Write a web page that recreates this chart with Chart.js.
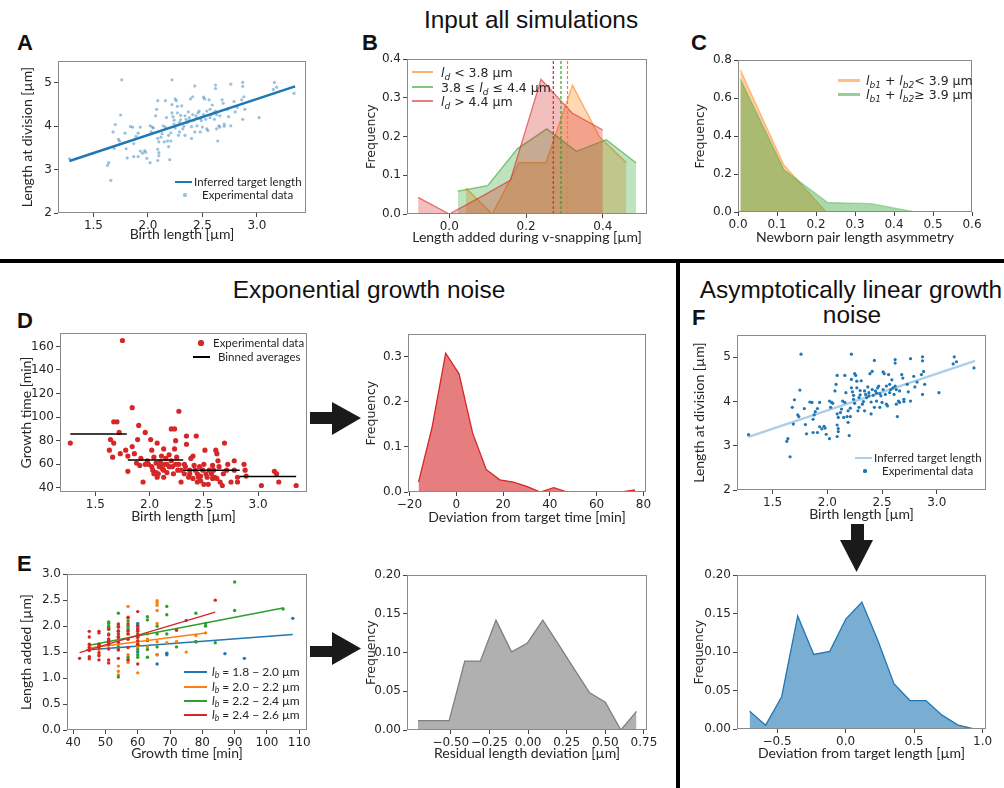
<!DOCTYPE html>
<html>
<head>
<meta charset="utf-8">
<script src="https://cdn.jsdelivr.net/npm/chart.js@4.4.0/dist/chart.umd.min.js"></script>
<style>
  body { margin: 0; background: #fff; }
  #fig { position: relative; width: 1004px; height: 788px; overflow: hidden; background: #fff; }
  .box { position: absolute; }
  .t { position: absolute; white-space: nowrap; color: #262626; }
  .head { position: absolute; white-space: nowrap; font-family: 'Liberation Sans', Arial, sans-serif; font-size: 24.4px; line-height: 25px; color: #111; transform: translateX(-50%); }
  .letter { position: absolute; font-family: 'Liberation Sans', Arial, sans-serif; font-weight: bold; font-size: 22px; line-height: 22px; color: #111; }
  sub { font-size: 72%; vertical-align: -0.28em; line-height: 0; }
</style>
</head>
<body>
<div id="fig">
  <svg width="1004" height="788" style="position:absolute;left:0;top:0">
    <rect x="0" y="259" width="1004" height="4" fill="#000"/>
    <rect x="676" y="259" width="4" height="529" fill="#000"/>
    <!-- arrows -->
    <rect x="310" y="412" width="24" height="12" fill="#1a1a1a"/>
    <polygon points="332,402 361,418 332,435" fill="#1a1a1a"/>
    <rect x="310" y="646" width="24" height="11" fill="#1a1a1a"/>
    <polygon points="332,632 361,648.5 332,665" fill="#1a1a1a"/>
    <rect x="851" y="524" width="13" height="18" fill="#1a1a1a"/>
    <polygon points="840,540 873,540 856.5,572" fill="#1a1a1a"/>
  </svg>
  <div class="head" style="left:531px;top:7px">Input all simulations</div>
  <div class="head" style="left:369px;top:277px">Exponential growth noise</div>
  <div class="head" style="left:851px;top:277px">Asymptotically linear growth</div>
  <div class="head" style="left:852px;top:302px">noise</div>
  <div class="letter" style="left:17px;top:32px">A</div>
  <div class="letter" style="left:362px;top:32px">B</div>
  <div class="letter" style="left:691px;top:32px">C</div>
  <div class="letter" style="left:17px;top:310px">D</div>
  <div class="letter" style="left:17px;top:553px">E</div>
  <div class="letter" style="left:692px;top:307px">F</div>
</div>
<script>
// ---- data ----
// A / F : birth length vs length at division
const birthLen = [1.28,1.76,2.22,2.43,2.62,2.62,2.76,2.87,2.87,3.16,3.18,3.15,3.34,1.75,1.66,1.64,1.63,1.70,1.68,1.73,1.74,1.69,1.79,1.80,1.81,1.84,1.86,1.87,1.88,1.89,1.91,1.93,1.93,1.87,1.91,1.95,1.97,1.98,1.99,2.02,2.02,2.04,2.03,2.05,2.07,2.08,2.09,2.09,2.10,2.09,2.10,2.10,2.09,2.12,2.13,2.14,2.15,2.16,2.16,2.17,2.18,2.19,2.19,2.20,2.21,2.21,2.22,2.22,2.23,2.24,2.24,2.25,2.25,2.26,2.27,2.27,2.28,2.29,2.29,2.30,2.30,2.31,2.32,2.33,2.34,2.34,2.35,2.36,2.37,2.38,2.38,2.39,2.40,2.40,2.41,2.41,2.42,2.43,2.44,2.45,2.45,2.46,2.47,2.48,2.48,2.49,2.50,2.51,2.51,2.52,2.53,2.54,2.54,2.55,2.56,2.57,2.57,2.58,2.59,2.60,2.61,2.62,2.63,2.63,2.64,2.65,2.66,2.66,2.68,2.69,2.70,2.70,2.73,2.74,2.76,2.79,2.80,2.82,2.86,2.87,2.88,2.89,3.02];
const divLen = [3.25,5.07,5.07,4.93,4.95,4.87,4.97,5.01,4.92,5.01,4.90,4.85,4.76,4.26,2.75,3.16,3.10,4.04,3.87,3.70,3.66,3.49,3.84,3.48,3.27,3.99,3.98,3.60,3.70,3.77,3.84,3.98,3.43,3.30,3.30,3.38,3.44,3.40,3.26,3.16,4.01,3.98,3.87,3.96,4.24,4.39,4.59,3.72,3.64,3.47,3.39,3.32,3.21,3.75,3.83,4.01,3.64,3.98,4.59,4.20,3.66,3.79,3.53,3.23,3.66,3.85,4.50,4.31,4.22,4.14,4.05,4.63,3.96,4.59,4.46,4.31,3.79,3.87,4.09,4.25,4.15,4.47,3.94,4.00,3.79,4.24,4.16,4.09,4.33,4.20,4.13,4.63,3.99,3.72,4.68,4.27,4.14,3.87,4.24,4.01,4.19,4.31,4.35,4.18,3.87,4.13,3.98,4.67,4.27,4.63,4.16,4.35,3.94,3.90,4.61,4.20,4.39,4.27,4.49,4.31,4.16,4.35,3.94,4.27,3.66,4.01,4.24,3.98,4.61,4.53,4.05,4.00,4.39,4.22,4.01,4.57,4.33,4.44,4.61,4.16,4.68,4.39,4.20];
const fitX = [1.28, 3.35];
const fitY = [3.20, 4.92];

// B : length added during v-snapping
const bOrangeX = [0.043,0.112,0.182,0.252,0.321,0.391,0.461];
const bOrangeY = [0.067,0.0,0.133,0.133,0.333,0.200,0.133];
const bGreenX = [0.022,0.100,0.178,0.254,0.331,0.409,0.487];
const bGreenY = [0.059,0.073,0.169,0.220,0.162,0.192,0.132];
const bRedX = [-0.081,0.0,0.080,0.159,0.239,0.320,0.400];
const bRedY = [0.043,0.0,0.043,0.087,0.348,0.261,0.217];
const bMeans = [0.271, 0.291, 0.308]; // red, green, orange

// C : newborn pair length asymmetry
const cOrangeX = [0.006,0.117,0.226];
const cOrangeY = [0.75,0.25,0.0];
const cGreenX = [0.006,0.118,0.230,0.342,0.454];
const cGreenY = [0.70,0.222,0.050,0.044,0.0];

// D : birth length vs growth time
const dBirth = [1.75,1.27,1.84,2.27,1.67,1.70,1.72,1.64,1.67,1.63,1.66,1.73,1.78,1.80,1.84,1.90,1.96,1.89,2.01,1.80,1.86,1.88,1.91,1.94,1.98,2.02,2.04,2.06,2.07,2.09,2.10,2.11,2.13,2.13,2.15,2.16,2.18,2.20,2.23,2.21,2.23,2.24,2.25,2.27,2.29,2.29,2.32,2.34,2.34,2.37,2.38,2.40,2.41,2.43,2.44,2.45,2.46,2.47,2.49,2.50,2.51,2.53,2.54,2.55,2.57,2.58,2.60,2.61,2.62,2.63,2.64,2.65,2.67,2.68,2.69,2.71,2.72,2.75,2.78,2.78,2.81,2.87,2.88,2.89,2.81,3.03,3.15,3.17,3.19,3.35,1.99,2.02,2.03,2.06,2.08,2.10,2.12,2.14,2.16,2.18,2.20,2.22,2.24,2.26,2.32,2.33,2.36,2.37,2.40,2.42,2.44,2.47,2.50,2.52,2.58,2.59,2.62,2.04,1.96,1.92,2.07,2.13];
const dTime = [165,78,108,105,96,96,87,81,78,72,66,69,72,67,75,93,87,81,81,54,69,61,59,45,63,72,66,61,78,58,62,67,73,55,65,60,68,90,90,58,73,80,66,60,45,55,60,84,77,55,65,67,59,84,52,49,58,46,55,60,72,49,43,55,52,59,49,72,69,63,58,45,42,52,78,55,60,45,63,55,49,60,55,50,45,42,54,52,45,42,60,58,55,53,52,59,56,60,53,58,63,52,60,55,52,58,49,52,48,55,45,50,43,52,48,55,48,52,60,65,49,49];
const binStart = [1.27,1.80,2.31,2.83];
const binEnd = [1.79,2.31,2.83,3.35];
const binMean = [85.7,63.7,54.9,49.6];
const dDevX = [-16.1,-10.3,-4.5,1.2,7.0,12.8,18.6,24.4,30.1,35.9,41.7,47.5,53.3,59.0,64.8,70.6,76.4];
const dDevY = [0.022,0.144,0.308,0.262,0.131,0.050,0.027,0.022,0.0125,0,0.0096,0,0,0,0,0,0.0044];

// E : growth time vs length added, per birth length bin
const eBlueT = [54,60,60,60,63,66,66,69,69,75,78,87,93,108];
const eBlueL = [1.60,2.05,2.02,1.50,1.72,1.27,1.45,1.48,1.45,2.11,1.70,1.47,1.38,2.15];
const eOrangeT = [45,45,48,48,51,51,51,51,54,54,54,54,54,54,57,57,57,57,57,57,60,60,60,60,60,63,63,63,66,66,66,66,66,66,66,69,72,75,78,81];
const eOrangeL = [1.56,1.62,1.55,1.45,1.57,1.95,1.98,1.70,1.06,1.13,1.23,1.80,2.03,1.90,2.38,2.15,1.90,1.45,1.30,1.75,1.10,1.70,1.95,1.60,1.80,1.85,1.60,1.75,2.49,2.45,2.40,2.30,2.05,1.45,1.70,1.68,1.70,1.50,1.82,1.87];
const eGreenT = [45,48,51,51,51,51,51,51,51,54,54,54,54,54,54,54,57,57,57,57,57,57,57,60,60,60,60,60,60,63,63,63,63,66,66,66,69,69,69,72,78,78,81,81,84,90,90,105];
const eGreenL = [1.55,1.65,2.08,2.05,2.00,1.95,1.85,1.75,1.65,2.25,1.02,1.80,1.90,1.60,1.55,2.00,2.10,2.00,1.95,1.75,1.40,1.35,1.85,1.90,1.80,1.55,1.45,1.40,1.65,2.18,2.12,1.40,1.55,2.00,1.85,1.60,2.38,2.22,1.85,1.60,2.25,1.70,2.05,2.00,1.68,2.85,2.30,2.33];
const eRedT = [42,45,45,45,45,45,45,45,48,48,48,48,48,48,48,48,51,51,51,51,51,51,51,51,51,54,54,54,54,54,54,54,54,57,57,57,57,57,57,57,60,60,60,60,60,60,60,60,60,72,84];
const eRedL = [1.38,1.90,1.79,1.65,1.59,1.53,1.41,1.37,1.90,1.87,1.65,1.58,1.49,1.43,1.35,1.62,1.94,1.83,1.72,1.64,1.56,1.35,1.29,1.75,1.68,2.04,1.91,1.78,1.69,1.54,1.38,1.85,1.98,2.17,2.04,1.91,1.85,1.59,1.35,1.75,2.28,1.91,1.85,1.78,1.72,1.65,1.27,1.95,2.00,1.92,2.50];
const eFitBlueT = [44,108], eFitBlueL = [1.54,1.84];
const eFitOrangeT = [45,81], eFitOrangeL = [1.58,1.87];
const eFitGreenT = [45,105], eFitGreenL = [1.63,2.35];
const eFitRedT = [42,84], eFitRedL = [1.49,2.27];
const eResX = [-0.713,-0.612,-0.511,-0.410,-0.309,-0.208,-0.107,-0.006,0.095,0.196,0.298,0.399,0.500,0.601,0.702];
const eResY = [0.012,0.012,0.012,0.089,0.089,0.142,0.101,0.112,0.142,0.111,0.079,0.048,0.036,0.0,0.024];

// F : deviation from target length
const fDevX = [-0.70,-0.583,-0.466,-0.349,-0.232,-0.115,0.002,0.119,0.236,0.353,0.47,0.587,0.704,0.821,0.938];
const fDevY = [0.023,0.005,0.042,0.147,0.097,0.101,0.143,0.165,0.115,0.059,0.037,0.037,0.018,0.005,0.0];

// tick values and labels
const birthTicks = [1.5,2.0,2.5,3.0], birthLabels = ['1.5','2.0','2.5','3.0'];
const divTicks = [2,3,4,5], divLabels = ['2','3','4','5'];
const bXTicks = [0,0.2,0.4], bXLabels = ['0.0','0.2','0.4'];
const bYTicks = [0,0.1,0.2,0.3,0.4], bYLabels = ['0.0','0.1','0.2','0.3','0.4'];
const cXTicks = [0,0.1,0.2,0.3,0.4,0.5,0.6], cXLabels = ['0.0','0.1','0.2','0.3','0.4','0.5','0.6'];
const cYTicks = [0,0.2,0.4,0.6,0.8], cYLabels = ['0.0','0.2','0.4','0.6','0.8'];
const timeTicks = [40,60,80,100,120,140,160], timeLabels = ['40','60','80','100','120','140','160'];
const devTTicks = [-20,0,20,40,60,80], devTLabels = ['\u221220','0','20','40','60','80'];
const devTYTicks = [0,0.1,0.2,0.3], devTYLabels = ['0.0','0.1','0.2','0.3'];
const gtTicks = [40,50,60,70,80,90,100,110], gtLabels = ['40','50','60','70','80','90','100','110'];
const addTicks = [0,0.5,1,1.5,2,2.5,3], addLabels = ['0.0','0.5','1.0','1.5','2.0','2.5','3.0'];
const resTicks = [-0.5,-0.25,0,0.25,0.5,0.75], resLabels = ['\u22120.50','\u22120.25','0.00','0.25','0.50','0.75'];
const freq2Ticks = [0,0.05,0.1,0.15,0.2], freq2Labels = ['0.00','0.05','0.10','0.15','0.20'];
const fDevTicks = [-0.5,0,0.5,1.0], fDevLabels = ['\u22120.5','0.0','0.5','1.0'];

// ---- helpers ----
const fig = document.getElementById('fig');
const pts = (xs, ys) => xs.map((x, i) => ({x: x, y: ys[i]}));

const titleFont = {family: 'Lato', size: 14};
const freqFont = {family: 'DejaVu Sans', size: 12.5};

const framePlugin = {
  id: 'frame',
  afterDatasetsDraw(chart) {
    const a = chart.chartArea, ctx = chart.ctx;
    ctx.save();
    ctx.strokeStyle = '#8a8a8a';
    ctx.lineWidth = 1;
    ctx.strokeRect(Math.round(a.left) + 0.5, Math.round(a.top) + 0.5,
      Math.round(a.right - a.left) - 1, Math.round(a.bottom - a.top) - 1);
    ctx.restore();
  }
};

function axis(a, size, horizontal) {
  return {
    type: 'linear', min: a.min, max: a.max,
    afterBuildTicks: s => { s.ticks = a.ticks.map(v => ({value: v})); },
    afterFit: s => { if (horizontal) s.height = size; else s.width = size; },
    ticks: {autoSkip: false, maxRotation: 0, padding: 2, color: '#262626',
      font: {family: 'DejaVu Sans', size: 12}, callback: (v, i) => a.labels[i]},
    grid: {display: true, drawOnChartArea: false, drawTicks: true, tickLength: 4, color: '#444'},
    border: {display: false},
    title: {display: true, text: a.title, color: '#262626', font: a.font || titleFont, padding: 0}
  };
}

function makeChart(p, datasets) {
  const yf = p.y.font || titleFont, xf = p.x.font || titleFont;
  const L = Math.round(p.ytc - yf.size * 0.6);
  const T = p.plot[1] - 8;
  const B = Math.round(p.xtc + xf.size * 0.6);
  const R = p.plot[2] + 14;
  const wrap = document.createElement('div');
  wrap.className = 'box';
  wrap.style.left = L + 'px';
  wrap.style.top = T + 'px';
  const cv = document.createElement('canvas');
  cv.width = R - L; cv.height = B - T;
  cv.style.width = (R - L) + 'px'; cv.style.height = (B - T) + 'px';
  wrap.appendChild(cv);
  fig.appendChild(wrap);
  new Chart(cv, {
    type: 'line',
    data: {datasets: datasets},
    options: {
      responsive: false, animation: false, events: [],
      layout: {autoPadding: false, padding: {left: 0, top: 8, right: 14, bottom: 0}},
      plugins: {legend: {display: false}, tooltip: {enabled: false}},
      scales: {x: axis(p.x, B - p.plot[3], true), y: axis(p.y, p.plot[0] - L, false)}
    },
    plugins: [framePlugin]
  });
}

function area(xs, ys, stroke, fill, order) {
  return {data: pts(xs, ys), borderColor: stroke, backgroundColor: fill, fill: 'origin',
    borderWidth: 1.3, pointRadius: 0, tension: 0, order: order || 0};
}
function dots(xs, ys, color, r, order) {
  return {data: pts(xs, ys), showLine: false, pointRadius: r, pointBorderWidth: 0,
    pointBackgroundColor: color, borderColor: color, order: order || 0};
}
function seg(xs, ys, color, w, order, dash) {
  return {data: pts(xs, ys), borderColor: color, borderWidth: w, pointRadius: 0, fill: false,
    borderDash: dash || [], order: order || 0};
}

function text(html, x, cy, font, size) {
  const d = document.createElement('div');
  d.className = 't';
  d.innerHTML = html;
  d.style.left = x + 'px';
  d.style.top = (cy - size * 0.6) + 'px';
  d.style.fontFamily = font;
  d.style.fontSize = size + 'px';
  d.style.lineHeight = (size * 1.2) + 'px';
  fig.appendChild(d);
}
function swLine(x0, x1, cy, color, w) {
  const d = document.createElement('div');
  d.className = 'box';
  d.style.cssText += `left:${x0}px;top:${cy - w / 2}px;width:${x1 - x0}px;height:${w}px;background:${color}`;
  fig.appendChild(d);
}
function swDot(cx, cy, r, color) {
  const d = document.createElement('div');
  d.className = 'box';
  d.style.cssText += `left:${cx - r}px;top:${cy - r}px;width:${2 * r}px;height:${2 * r}px;border-radius:50%;background:${color}`;
  fig.appendChild(d);
}

const BLUE = '#1f77b4', ORANGE = '#ff7f0e', GREEN = '#2ca02c', RED = '#d62728';

// ---- A ----
makeChart({plot: [58, 60, 306, 213], ytc: 27, xtc: 235,
  x: {min: 1.175, max: 3.45, ticks: birthTicks, labels: birthLabels, title: 'Birth length [\u00b5m]'},
  y: {min: 2, max: 5.5, ticks: divTicks, labels: divLabels, title: 'Length at division [\u00b5m]'}},
  [seg(fitX, fitY, BLUE, 2.5, 0), dots(birthLen, divLen, 'rgba(31,119,180,0.45)', 1.6, 1)]);

// ---- B ----
makeChart({plot: [407, 58, 647, 214], ytc: 371, xtc: 238,
  x: {min: -0.11, max: 0.515, ticks: bXTicks, labels: bXLabels, title: 'Length added during v-snapping [\u00b5m]'},
  y: {min: 0, max: 0.4, ticks: bYTicks, labels: bYLabels, title: 'Frequency', font: freqFont}},
  [seg([bMeans[0], bMeans[0]], [0, 0.4], RED, 1.2, 0, [3, 2]),
   seg([bMeans[1], bMeans[1]], [0, 0.4], GREEN, 1.2, 0, [3, 2]),
   seg([bMeans[2], bMeans[2]], [0, 0.4], ORANGE, 1.2, 0, [3, 2]),
   area(bRedX, bRedY, 'rgba(214,39,40,0.6)', 'rgba(214,39,40,0.3)', 1),
   area(bGreenX, bGreenY, 'rgba(44,160,44,0.6)', 'rgba(44,160,44,0.3)', 2),
   area(bOrangeX, bOrangeY, 'rgba(255,127,14,0.6)', 'rgba(255,127,14,0.3)', 3)]);

// ---- C ----
makeChart({plot: [738, 59, 972, 212], ytc: 700, xtc: 238,
  x: {min: 0, max: 0.6, ticks: cXTicks, labels: cXLabels, title: 'Newborn pair length asymmetry'},
  y: {min: 0, max: 0.8, ticks: cYTicks, labels: cYLabels, title: 'Frequency', font: freqFont}},
  [area(cGreenX, cGreenY, 'rgba(44,160,44,0.35)', 'rgba(44,160,44,0.4)', 1),
   area(cOrangeX, cOrangeY, 'rgba(255,127,14,0.45)', 'rgba(255,127,14,0.4)', 2)]);

// ---- D left ----
const binX = [], binY = [];
binStart.forEach((s, i) => { binX.push(s, binEnd[i], binEnd[i]); binY.push(binMean[i], binMean[i], null); });
makeChart({plot: [60, 332, 307, 492], ytc: 26, xtc: 517,
  x: {min: 1.175, max: 3.45, ticks: birthTicks, labels: birthLabels, title: 'Birth length [\u00b5m]'},
  y: {min: 36.5, max: 171.2, ticks: timeTicks, labels: timeLabels, title: 'Growth time [min]'}},
  [seg(binX, binY, '#000', 1.6, 0), dots(dBirth, dTime, RED, 2.6, 1)]);

// ---- D right ----
makeChart({plot: [408, 333, 646, 492], ytc: 371, xtc: 518,
  x: {min: -20.6, max: 81.1, ticks: devTTicks, labels: devTLabels, title: 'Deviation from target time [min]'},
  y: {min: 0, max: 0.35, ticks: devTYTicks, labels: devTYLabels, title: 'Frequency', font: freqFont}},
  [area(dDevX, dDevY, RED, 'rgba(214,39,40,0.6)', 0)]);

// ---- E left ----
makeChart({plot: [67, 573, 307, 730], ytc: 26, xtc: 754,
  x: {min: 38.1, max: 112.4, ticks: gtTicks, labels: gtLabels, title: 'Growth time [min]'},
  y: {min: 0, max: 3.0, ticks: addTicks, labels: addLabels, title: 'Length added [\u00b5m]'}},
  [seg(eFitRedT, eFitRedL, RED, 1.5, 0),
   dots(eRedT, eRedL, RED, 1.7, 1),
   seg(eFitGreenT, eFitGreenL, GREEN, 1.5, 2),
   dots(eGreenT, eGreenL, GREEN, 1.7, 3),
   seg(eFitOrangeT, eFitOrangeL, ORANGE, 1.5, 4),
   dots(eOrangeT, eOrangeL, ORANGE, 1.7, 5),
   seg(eFitBlueT, eFitBlueL, BLUE, 1.5, 6),
   dots(eBlueT, eBlueL, BLUE, 1.7, 7)]);

// ---- E right ----
makeChart({plot: [407, 574, 647, 730], ytc: 371, xtc: 754,
  x: {min: -0.784, max: 0.77, ticks: resTicks, labels: resLabels, title: 'Residual length deviation [\u00b5m]'},
  y: {min: 0, max: 0.2, ticks: freq2Ticks, labels: freq2Labels, title: 'Frequency', font: freqFont}},
  [area(eResX, eResY, '#7f7f7f', 'rgba(128,128,128,0.62)', 0)]);

// ---- F top ----
makeChart({plot: [737, 334, 986, 490], ytc: 699, xtc: 515,
  x: {min: 1.175, max: 3.45, ticks: birthTicks, labels: birthLabels, title: 'Birth length [\u00b5m]'},
  y: {min: 2, max: 5.5, ticks: divTicks, labels: divLabels, title: 'Length at division [\u00b5m]'}},
  [seg(fitX, fitY, '#aecde6', 2.5, 1), dots(birthLen, divLen, BLUE, 1.6, 0)]);

// ---- F bottom ----
makeChart({plot: [737, 574, 986, 729], ytc: 699, xtc: 754,
  x: {min: -0.792, max: 1.025, ticks: fDevTicks, labels: fDevLabels, title: 'Deviation from target length [\u00b5m]'},
  y: {min: 0, max: 0.2, ticks: freq2Ticks, labels: freq2Labels, title: 'Frequency', font: freqFont}},
  [area(fDevX, fDevY, BLUE, 'rgba(31,119,180,0.6)', 0)]);

// ---- legends ----
const LG = 'Lato', DJ = 'DejaVu Sans';
swLine(175, 192, 182, BLUE, 2.5); text('Inferred target length', 194, 182, LG, 11.5);
swDot(185, 195, 1.6, 'rgba(31,119,180,0.45)'); text('Experimental data', 202, 195, LG, 11.5);

swLine(412, 433, 72, 'rgba(255,127,14,0.6)', 2); text('<i>l<sub>d</sub></i> &lt; 3.8 \u00b5m', 441, 72, DJ, 12.5);
swLine(412, 433, 87, 'rgba(44,160,44,0.6)', 2); text('3.8 \u2264 <i>l<sub>d</sub></i> \u2264 4.4 \u00b5m', 441, 87, DJ, 12.5);
swLine(412, 433, 101, 'rgba(214,39,40,0.6)', 2); text('<i>l<sub>d</sub></i> &gt; 4.4 \u00b5m', 441, 101, DJ, 12.5);

swLine(838, 860, 80, 'rgba(255,127,14,0.5)', 3); text('<i>l<sub>b1</sub></i> + <i>l<sub>b2</sub></i>&lt; 3.9 \u00b5m', 866, 80, DJ, 12.5);
swLine(838, 860, 94, 'rgba(44,160,44,0.5)', 3); text('<i>l<sub>b1</sub></i> + <i>l<sub>b2</sub></i>\u2265 3.9 \u00b5m', 866, 94, DJ, 12.5);

swDot(201, 343, 2.6, RED); text('Experimental data', 213, 343, LG, 11.5);
swLine(193, 210, 357, '#000', 1.6); text('Binned averages', 218, 357, LG, 11.5);

swLine(184, 207, 672, BLUE, 2); text('<i>l<sub>b</sub></i> = 1.8 \u2212 2.0 \u00b5m', 212, 672, LG, 12);
swLine(184, 207, 687, ORANGE, 2); text('<i>l<sub>b</sub></i> = 2.0 \u2212 2.2 \u00b5m', 212, 687, LG, 12);
swLine(184, 207, 701, GREEN, 2); text('<i>l<sub>b</sub></i> = 2.2 \u2212 2.4 \u00b5m', 212, 701, LG, 12);
swLine(184, 207, 715, RED, 2); text('<i>l<sub>b</sub></i> = 2.4 \u2212 2.6 \u00b5m', 212, 715, LG, 12);

swLine(855, 872, 458, '#aecde6', 2.5); text('Inferred target length', 874, 458, LG, 11.5);
swDot(865, 471, 1.6, BLUE); text('Experimental data', 882, 471, LG, 11.5);
</script>
</body>
</html>
